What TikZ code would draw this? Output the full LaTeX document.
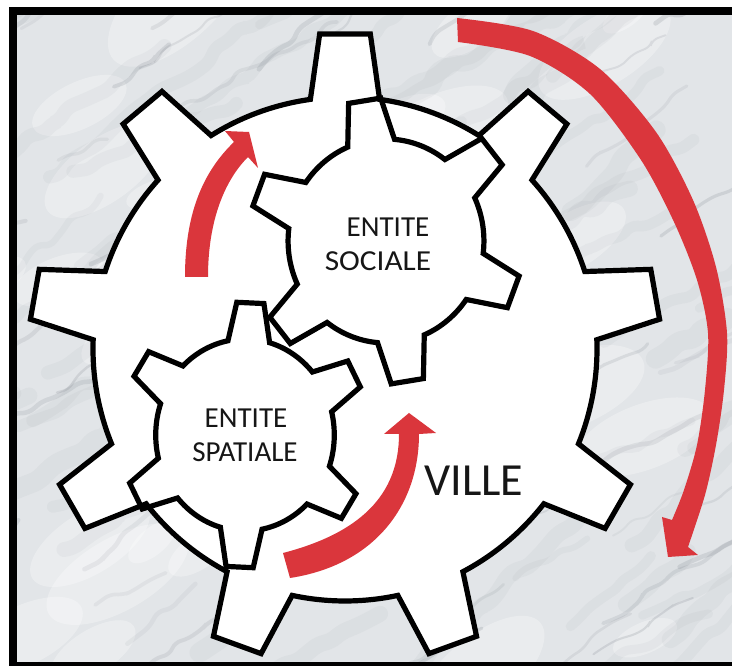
\documentclass[tikz,border=0pt]{standalone}
\usepackage{fontspec}
\setmainfont{Carlito}
\usepackage{graphicx}
\usetikzlibrary{decorations.pathmorphing}
\definecolor{arrowred}{RGB}{218,54,60}
\definecolor{marblebase}{RGB}{226,229,232}
\definecolor{marblevein}{RGB}{105,112,122}
\definecolor{inkblack}{RGB}{22,22,22}

\newcommand\gearshape[6]{%
 ({#2-#6}:#4) \foreach \gi in {1,...,#1}{ -- ({#2+(\gi-1)*360/#1-#5}:#3) -- ({#2+(\gi-1)*360/#1+#5}:#3) -- ({#2+(\gi-1)*360/#1+#6}:#4) arc[start angle={#2+(\gi-1)*360/#1+#6}, delta angle={360/#1-2*#6}, radius=#4]} -- cycle}

\tikzset{
  gearfill/.style={fill=white},
  gearline/.style={draw=black, line width=5.2pt, line join=miter},
  gtext/.style={font=\fontsize{29}{29}\selectfont, text=inkblack, anchor=base, inner sep=0pt},
  vein/.style={draw=marblevein, line cap=round, decorate, decoration={random steps, segment length=14pt, amplitude=5pt}, rounded corners=6pt},
}

\begin{document}
\begin{tikzpicture}[x=1pt,y=1pt]
\useasboundingbox (0,0) rectangle (732,666);
\fill[white] (0,0) rectangle (732,666);
% marble background
\begin{scope}
  \clip (16,3) rectangle (740,652);
  \fill[marblebase] (0,0) rectangle (740,666);
  \pgfmathsetseed{11}
  \foreach \k in {1,...,40}{
    \pgfmathsetmacro\sx{rnd*780-40}
    \pgfmathsetmacro\sy{rnd*700-20}
    \pgfmathsetmacro\rr{12+rnd*30}
    \pgfmathsetmacro\rot{20+rnd*25}
    \fill[white, opacity=0.3, rotate around={\rot:(\sx,\sy)}] (\sx,\sy) ellipse ({\rr*2.2} and \rr);
  }
  \foreach \k in {1,...,70}{
    \pgfmathsetmacro\sx{rnd*900-200}
    \pgfmathsetmacro\sy{rnd*760-60}
    \pgfmathsetmacro\len{80+rnd*220}
    \pgfmathsetmacro\lw{6+rnd*14}
    \pgfmathsetmacro\ang{22+rnd*22}
    \draw[vein, line width=\lw pt, draw opacity=0.05] (\sx,\sy) -- ++(\ang:\len);
  }
  \foreach \k in {1,...,70}{
    \pgfmathsetmacro\sx{rnd*900-200}
    \pgfmathsetmacro\sy{rnd*760-60}
    \pgfmathsetmacro\len{50+rnd*160}
    \pgfmathsetmacro\lw{1.5+rnd*3.5}
    \pgfmathsetmacro\op{0.06+rnd*0.12}
    \pgfmathsetmacro\ang{22+rnd*22}
    \draw[vein, line width=\lw pt, draw opacity=\op] (\sx,\sy) -- ++(\ang:\len);
  }
\end{scope}
% frame
\draw[line width=8pt, black] (12.5,655) rectangle (800,-0.5);

% gear centres
\coordinate (bigc) at (345,317);
\coordinate (medc) at (386,425);
\coordinate (smallc) at (245,231);

% fills
\begin{scope}[shift={(bigc)}]
  \path[gearfill] \gearshape{9}{90}{316}{252}{4.6}{7.9};
\end{scope}
\begin{scope}[shift={(medc)}, xscale=0.96]
  \path[gearfill] \gearshape{6}{99}{143}{102}{6.8}{14};
\end{scope}
\begin{scope}[shift={(smallc)}, xscale=0.93]
  \path[gearfill] \gearshape{6}{87.5}{133}{96}{6.3}{13.5};
\end{scope}
% outlines
\begin{scope}[shift={(bigc)}]
  \path[gearline] \gearshape{9}{90}{316}{252}{4.6}{7.9};
\end{scope}
\begin{scope}[shift={(medc)}, xscale=0.96]
  \path[gearline] \gearshape{6}{99}{143}{102}{6.8}{14};
\end{scope}
\begin{scope}[shift={(smallc)}, xscale=0.93]
  \path[gearline] \gearshape{6}{87.5}{133}{96}{6.3}{13.5};
\end{scope}

% red arrows
\fill[arrowred] (185,389) .. controls (185,456) and (205,496) .. (234,524) -- (225,535) -- (249,534) -- (258,498) -- (248,509) .. controls (225,486) and (208,446) .. (208,389) -- cycle;
\fill[arrowred] (283,113) .. controls (360,133) and (399,171) .. (399,232) -- (384,232) -- (409,253) -- (436,233) -- (419,232) .. controls (419,161) and (375,101) .. (290,88) -- cycle;
\fill[arrowred] plot[smooth] coordinates {(457,648) (533,635) (600,597) (656,534) (693,466) (716,399) (727,333) (724,276) (716,221) (705,171) (688,119)} -- (698,111) -- (668,109) -- (662,149) -- plot[smooth] coordinates {(672,146) (684,176) (697,221) (705,276) (708,333) (697,386) (674,444) (641,506) (590,572) (530,610) (458,624)} -- cycle;

% texts
\node[gtext] (ent1) at (388,429) {ENTITE};
\node[gtext] (soc) at (378,395) {\scalebox{1.08}[1]{SOCIALE}};
\node[gtext] (ent2) at (246,238) {ENTITE};
\node[gtext] (spa) at (245,204) {SPATIALE};
\node[gtext, font=\fontsize{46}{46}\selectfont] (ville) at (474,170) {VILLE};
\end{tikzpicture}
\end{document}
